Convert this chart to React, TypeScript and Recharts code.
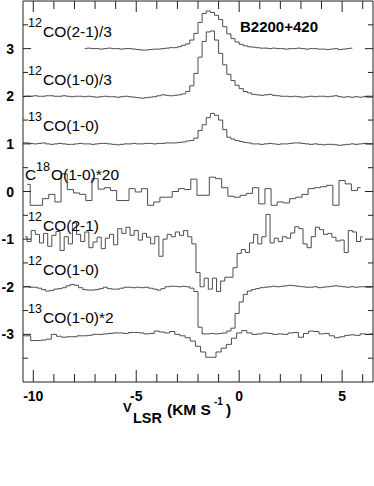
import React from 'react';
import { LineChart, Line, XAxis, YAxis } from 'recharts';

// axis ticks (velocity in km/s, offset intensity)
const xTicks = [-10, -9, -8, -7, -6, -5, -4, -3, -2, -1, 0, 1, 2, 3, 4, 5, 6];
const xLabels = [-10, -5, 0, 5];
const yTicks = [-3.5, -3, -2.5, -2, -1.5, -1, -0.5, 0, 0.5, 1, 1.5, 2, 2.5, 3, 3.5];
const yLabels = [-3, -2, -1, 0, 1, 2, 3];

// spectra: first channel velocity, channel width, offset and the channel values
const co21Third = [
  0.00, 0.01, 0.00, 0.00, -0.01, 0.00, 0.01, 0.00, 0.00, -0.01, 0.00, 0.00, -0.01, -0.02, -0.03, -0.03,
  -0.02, -0.01, -0.01, 0.00, 0.01, 0.02, 0.02, 0.04, 0.07, 0.10, 0.18, 0.32, 0.55, 0.74, 0.79, 0.76,
  0.70, 0.61, 0.46, 0.31, 0.21, 0.14, 0.09, 0.06, 0.04, 0.03, 0.02, 0.01, 0.01, 0.00, 0.01, 0.00,
  0.00, -0.01, 0.00, 0.00, 0.01, 0.00, -0.01, 0.00, 0.00, -0.01, -0.01, -0.02, -0.01, 0.00, -0.02, -0.01,
  0.00, 0.01,
];
const co10Third = [
  -0.01, 0.00, 0.00, 0.01, 0.00, 0.00, 0.01, 0.01, 0.00, 0.00, 0.01, 0.00, -0.01, 0.00, 0.00, -0.01,
  0.00, -0.01, -0.02, -0.01, 0.00, -0.01, -0.01, -0.02, -0.01, 0.00, -0.01, -0.02, -0.03, -0.04, -0.03, -0.02,
  -0.01, 0.01, 0.03, 0.02, 0.01, 0.02, 0.03, 0.05, 0.10, 0.22, 0.48, 0.82, 1.15, 1.35, 1.37, 1.18,
  0.90, 0.66, 0.46, 0.33, 0.23, 0.16, 0.10, 0.07, 0.04, 0.03, 0.02, 0.03, 0.04, 0.02, 0.01, 0.00,
  0.00, -0.01, 0.00, -0.01, -0.02, -0.01, 0.00, -0.01, 0.00, 0.00, -0.01, 0.00, 0.01, -0.01, -0.02, -0.01,
  -0.02, -0.01, -0.02, -0.01, -0.02, -0.02,
];
const co13 = [
  0.02, 0.02, 0.01, 0.00, 0.01, 0.02, 0.00, -0.01, 0.00, 0.01, 0.00, -0.01, -0.01, 0.00, 0.01, 0.00,
  0.00, -0.01, 0.00, 0.01, 0.01, 0.00, -0.01, -0.02, -0.01, 0.00, 0.00, 0.01, 0.00, 0.00, 0.01, 0.01,
  0.00, 0.01, 0.01, 0.02, 0.02, 0.02, 0.03, 0.04, 0.06, 0.07, 0.12, 0.28, 0.40, 0.55, 0.64, 0.60,
  0.50, 0.30, 0.14, 0.10, 0.07, 0.05, 0.03, 0.02, 0.00, 0.00, -0.01, 0.00, 0.01, 0.00, -0.01, 0.00,
  0.00, 0.01, 0.02, 0.02, 0.01, 0.00, -0.01, 0.00, -0.01, -0.02, -0.01, -0.01, -0.02, -0.03, -0.02, -0.01,
  0.00, -0.01, 0.00, 0.01, 0.00, 0.00,
];
const c18o = [
  0.15, -0.29, -0.29, -0.15, -0.06, -0.22, 0.37, 0.04, -0.03, -0.06, -0.19, 0.27, 0.05, 0.08, 0.02, -0.19,
  -0.19, 0.06, -0.01, 0.06, -0.29, -0.22, -0.12, -0.12, 0.00, 0.06, 0.04, 0.26, -0.08, -0.08, 0.30, 0.27,
  0.08, -0.10, -0.12, -0.08, -0.04, 0.08, -0.26, 0.06, -0.29, -0.22, -0.24, -0.15, -0.12, -0.06, 0.06, 0.08,
  0.10, 0.13, -0.29, 0.23, 0.16, 0.02, 0.08,
];
const co21 = [
  0.05, -0.05, 0.18, 0.10, -0.08, 0.12, -0.15, 0.08, 0.16, -0.24, 0.05, -0.10, 0.34, 0.10, -0.05, 0.15,
  -0.18, -0.06, 0.04, -0.20, 0.02, 0.10, -0.12, 0.22, 0.12, 0.25, 0.08, 0.18, -0.02, 0.12, 0.04, -0.10,
  0.06, -0.36, 0.00, 0.10, 0.05, 0.15, 0.08, 0.18, 0.05, -0.10, -0.70, -1.00, -0.82, -1.05, -0.82, -1.10,
  -0.88, -0.80, -0.80, -0.60, -0.30, -0.22, -0.28, -0.08, 0.10, -0.10, 0.05, 0.52, -0.08, 0.02, -0.05, 0.05,
  0.02, 0.13, 0.26, 0.22, -0.10, -0.18, 0.05, 0.25, 0.20, 0.10, 0.12, 0.04, -0.04, -0.02, -0.28, 0.18,
  0.15, -0.05, 0.05,
];
const co10 = [
  0.00, 0.00, -0.01, -0.01, -0.03, -0.06, -0.09, -0.08, -0.05, -0.04, -0.02, 0.02, 0.05, 0.03, -0.02, -0.06,
  -0.07, -0.07, -0.06, -0.04, -0.01, -0.04, -0.05, -0.05, -0.03, -0.01, -0.01, -0.02, -0.01, -0.02, -0.01, -0.03,
  -0.05, -0.07, -0.04, 0.00, 0.01, 0.01, 0.00, 0.01, 0.00, -0.03, -0.10, -0.85, -0.99, -0.99, -0.98, -0.99,
  -0.98, -0.97, -0.93, -0.87, -0.56, -0.32, -0.16, -0.09, -0.06, -0.04, -0.02, -0.01, 0.00, 0.01, 0.00, 0.01,
  0.02, 0.03, 0.02, 0.01, 0.00, -0.01, -0.01, 0.00, -0.02, -0.01, 0.00, 0.01, 0.02, 0.01, 0.00, -0.01,
  0.00, -0.01, 0.00, 0.00, -0.01, 0.00,
];
const co13Double = [
  -0.03, -0.03, -0.13, -0.13, -0.12, -0.10, 0.00, -0.04, -0.06, -0.05, -0.05, -0.03, -0.03, -0.02, 0.00, 0.00,
  0.01, 0.02, 0.03, 0.03, 0.02, 0.04, 0.04, 0.03, 0.01, 0.02, 0.07, 0.05, 0.03, 0.06, 0.00, -0.03,
  -0.07, -0.14, -0.25, -0.37, -0.48, -0.48, -0.37, -0.29, -0.21, -0.08, 0.03, 0.08, 0.03, 0.00, 0.01, 0.03,
  0.02, 0.00, 0.01, 0.00, 0.03, 0.04, -0.06, 0.02, 0.07, 0.06, 0.01, 0.02, -0.03, -0.07, -0.05, -0.02,
  -0.01, -0.02, 0.01, 0.00, 0.01,
];

const spectra = [
  { id: 'co21Third', start: -7.5, width: 0.2, offset: 3, values: co21Third },
  { id: 'co10Third', start: -10.5, width: 0.2, offset: 2, values: co10Third },
  { id: 'co13', start: -10.5, width: 0.2, offset: 1, values: co13 },
  { id: 'c18o', start: -10.3, width: 0.3, offset: 0, values: c18o },
  { id: 'co21', start: -10.4, width: 0.2, offset: -1, values: co21 },
  { id: 'co10', start: -10.5, width: 0.2, offset: -2, values: co10 },
  { id: 'co13Double', start: -10.5, width: 0.25, offset: -3, values: co13Double },
];

const toRows = (s: typeof spectra[number]) =>
  s.values.map((t, i) => ({ v: +(s.start + i * s.width).toFixed(2), y: s.offset + t }));

const FONT = '"Liberation Sans", Arial, Helvetica, sans-serif';
const INK = '#222';

const BottomTick = ({ x, y, payload }: any) => {
  const major = xLabels.includes(payload.value);
  return (
    <g>
      <line x1={x} x2={x} y1={y} y2={y - (major ? 12 : 8)} stroke={INK} />
      {major && (
        <text x={x} y={y + 19} textAnchor="middle" fontSize={14} fontWeight="bold" fontFamily={FONT} fill="#000">
          {payload.value}
        </text>
      )}
    </g>
  );
};

const TopTick = ({ x, y, payload }: any) => {
  const major = xLabels.includes(payload.value);
  return <line x1={x} x2={x} y1={y} y2={y + (major ? 11 : 8)} stroke={INK} />;
};

const LeftTick = ({ x, y, payload }: any) => {
  const major = yLabels.includes(payload.value);
  return (
    <g>
      <line x1={x} x2={x + (major ? 8 : 5)} y1={y} y2={y} stroke={INK} />
      {major && (
        <text x={x - 9} y={y + 5} textAnchor="end" fontSize={14} fontWeight="bold" fontFamily={FONT} fill="#000">
          {payload.value}
        </text>
      )}
    </g>
  );
};

const RightTick = ({ x, y, payload }: any) => {
  const major = yLabels.includes(payload.value);
  return <line x1={x} x2={x - (major ? 8 : 5)} y1={y} y2={y} stroke={INK} />;
};

const labels = [
  { sup: '12', pre: '', main: 'CO(2-1)/3', y: 37 },
  { sup: '12', pre: '', main: 'CO(1-0)/3', y: 85 },
  { sup: '13', pre: '', main: 'CO(1-0)', y: 130.5 },
  { sup: '18', pre: 'C', main: 'O(1-0)*20', y: 180 },
  { sup: '12', pre: '', main: 'CO(2-1)', y: 231 },
  { sup: '12', pre: '', main: 'CO(1-0)', y: 275 },
  { sup: '13', pre: '', main: 'CO(1-0)*2', y: 323 },
];

const App: React.FC = () => {
  return (
    <div style={{ position: 'absolute', left: 0, top: 0, width: 374, height: 486, background: '#fff' }}>
      <LineChart width={374} height={486} margin={{ top: 0, right: 0, left: 0, bottom: 0 }}>
        <XAxis
          dataKey="v"
          type="number"
          domain={[-10.5, 6.5]}
          allowDataOverflow
          ticks={xTicks}
          interval={0}
          height={104}
          tickSize={0}
          tickMargin={0}
          tickLine={false}
          axisLine={{ stroke: INK }}
          tick={<BottomTick />}
        />
        <XAxis
          xAxisId="top"
          orientation="top"
          dataKey="v"
          type="number"
          domain={[-10.5, 6.5]}
          allowDataOverflow
          ticks={xTicks}
          interval={0}
          height={1}
          tickSize={0}
          tickMargin={0}
          tickLine={false}
          axisLine={{ stroke: INK }}
          tick={<TopTick />}
        />
        <YAxis
          type="number"
          domain={[-4, 4]}
          allowDataOverflow
          ticks={yTicks}
          interval={0}
          width={23}
          tickSize={0}
          tickMargin={0}
          tickLine={false}
          axisLine={{ stroke: INK }}
          tick={<LeftTick />}
        />
        <YAxis
          yAxisId="right"
          orientation="right"
          type="number"
          domain={[-4, 4]}
          allowDataOverflow
          ticks={yTicks}
          interval={0}
          width={1}
          tickSize={0}
          tickMargin={0}
          tickLine={false}
          axisLine={{ stroke: INK }}
          tick={<RightTick />}
        />
        {spectra.map((s) => (
          <Line
            key={s.id}
            data={toRows(s)}
            dataKey="y"
            type="step"
            dot={false}
            activeDot={false}
            stroke="#4d4d4d"
            strokeWidth={1}
            isAnimationActive={false}
          />
        ))}
      </LineChart>
      <svg width={374} height={486} style={{ position: 'absolute', left: 0, top: 0, pointerEvents: 'none' }}>
        <g fontFamily={FONT} fill="#000">
          {labels.map((l) => (
            <g key={l.y}>
              {l.pre ? (
                <>
                  <text x={25} y={l.y} fontSize={15.5}>{l.pre}</text>
                  <text x={36} y={l.y - 9} fontSize={12.5}>{l.sup}</text>
                  <text x={51} y={l.y} fontSize={15.5}>{l.main}</text>
                </>
              ) : (
                <>
                  <text x={28} y={l.y - 10} fontSize={12.5}>{l.sup}</text>
                  <text x={43} y={l.y} fontSize={15.5}>{l.main}</text>
                </>
              )}
            </g>
          ))}
          <text x={240} y={32} fontSize={15} fontWeight="bold">B2200+420</text>
          <g fontWeight="bold">
            <text x={123} y={412} fontSize={13}>V</text>
            <text x={133} y={423} fontSize={14.5}>LSR</text>
            <text x={167} y={415} fontSize={15.5}>(KM S</text>
            <text x={214} y={405} fontSize={10}>-1</text>
            <text x={226} y={415} fontSize={15.5}>)</text>
          </g>
        </g>
      </svg>
    </div>
  );
};

export default App;
